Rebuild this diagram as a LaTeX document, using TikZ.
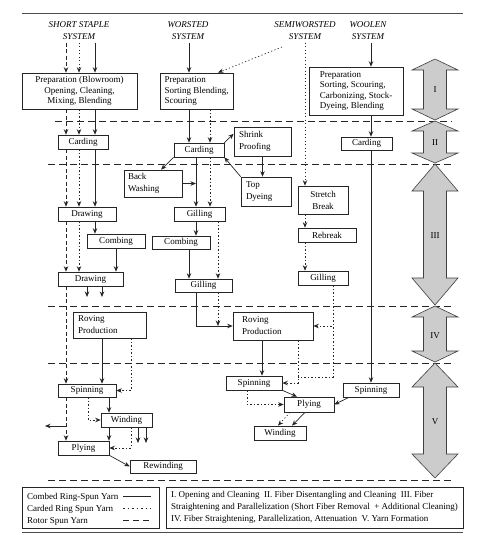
\documentclass[tikz,border=0pt]{standalone}
\usepackage{fontspec}
\setmainfont{Liberation Serif}
\usetikzlibrary{arrows.meta}

% double-headed stage arrow: centre x, top tip, bottom tip, head length
\newcommand{\stagearrow}[4]{%
  \draw[fill=gray!40, draw=black!75, line width=0.6pt]
    (#1,#2) -- (#1+23,#2+#4) -- (#1+11.5,#2+#4) -- (#1+11.5,#3-#4) -- (#1+23,#3-#4)
    -- (#1,#3) -- (#1-23,#3-#4) -- (#1-11.5,#3-#4) -- (#1-11.5,#2+#4) -- (#1-23,#2+#4) -- cycle;
}

\begin{document}
\begin{tikzpicture}[x=1pt, y=-1pt,
    box/.style={draw=black!85, line width=0.65pt, inner sep=0pt, font=\fontsize{9}{12}\selectfont, align=center},
    prepbox/.style={box, font=\fontsize{9}{10.5}\selectfont},
    title/.style={font=\fontsize{9}{12}\selectfont\itshape, align=center, inner sep=2.5pt},
    legtext/.style={font=\fontsize{9}{12}\selectfont, inner sep=0pt},
    stagelbl/.style={font=\fontsize{9}{12}\selectfont, inner sep=0pt},
    solidarr/.style={draw=black!85, line width=0.7pt, -{Stealth[length=5.5pt,width=4.5pt]}},
    dotarr/.style={solidarr, dash pattern=on 1.2pt off 2.3pt},
    dasharr/.style={solidarr, dash pattern=on 4pt off 2.5pt},
    dotline/.style={draw=black!85, line width=0.7pt, dash pattern=on 1.2pt off 2.3pt},
    stagesep/.style={draw=black!85, line width=0.8pt, dash pattern=on 7pt off 4pt},
  ]
  \useasboundingbox (0,0) rectangle (487,542);

  % rules
  \draw[line width=0.9pt, black!70] (22,13) -- (463,13);
  \draw[line width=0.9pt, black!70] (22,532) -- (463,532);

  % stage separators
  \foreach \y/\x in {121/55, 164/48, 306/48, 363/48, 480/48}
    \draw[stagesep] (\x,\y) -- (452,\y);

  % stage arrows
  \stagearrow{435}{59}{120}{11}
  \stagearrow{435}{121}{163}{10}
  \stagearrow{435}{164}{305}{27}
  \stagearrow{435}{306}{362}{11}
  \stagearrow{435}{363}{478}{24}
  \node[stagelbl] (stI) at (435,90) {I};
  \node[stagelbl] (stII) at (435,143) {II};
  \node[stagelbl] (stIII) at (435,236) {III};
  \node[stagelbl] (stIV) at (435,336) {IV};
  \node[stagelbl] (stV) at (435,422) {V};

  % system titles
  \node[title] (tS) at (79,31) {SHORT STAPLE\\SYSTEM};
  \node[title] (tW) at (188,31) {WORSTED\\SYSTEM};
  \node[title] (tSW) at (305,31) {SEMIWORSTED\\SYSTEM};
  \node[title] (tL) at (368,31) {WOOLEN\\SYSTEM};

  % short staple boxes
  \node[prepbox, minimum width=115pt, minimum height=36pt] (prepS) at (79.5,91) {Preparation (Blowroom)\\Opening, Cleaning,\\Mixing, Blending};
  \node[box, minimum width=50pt, minimum height=14pt] (cardS) at (83,142) {Carding};
  \node[box, minimum width=58pt, minimum height=14pt] (drawS) at (87,214) {Drawing};
  \node[box, minimum width=58pt, minimum height=14pt] (combS) at (116,241) {Combing};
  \node[box, minimum width=65pt, minimum height=14pt] (drawS2) at (90.5,279) {Drawing};
  \node[box, minimum width=73pt, minimum height=26pt, text width=63pt, align=left] (rovS) at (109.5,325) {Roving\\Production};
  \node[box, minimum width=58pt, minimum height=13pt] (spinS) at (87,390.5) {Spinning};
  \node[box, minimum width=51pt, minimum height=14pt] (windS) at (126.5,420) {Winding};
  \node[box, minimum width=51pt, minimum height=14pt] (plyS) at (83.5,448) {Plying};
  \node[box, minimum width=66pt, minimum height=13pt] (rewind) at (163,466.5) {Rewinding};

  % worsted boxes
  \node[prepbox, minimum width=73pt, minimum height=36pt, align=left] (prepW) at (196.5,91) {Preparation\\Sorting Blending,\\Scouring};
  \node[box, minimum width=50pt, minimum height=14pt] (cardW) at (199,150) {Carding};
  \node[box, minimum width=57pt, minimum height=29pt, text width=47pt, align=left] (shrink) at (262.5,141.5) {Shrink\\Proofing};
  \node[box, minimum width=50pt, minimum height=29pt, text width=40pt, align=left] (topdye) at (266,191.5) {Top\\Dyeing};
  \node[box, minimum width=58pt, minimum height=27pt, text width=50pt, align=left] (backwash) at (153,183.5) {Back\\Washing};
  \node[box, minimum width=51pt, minimum height=14pt] (gillW) at (199.5,214) {Gilling};
  \node[box, minimum width=58pt, minimum height=13pt] (combW) at (181,242.5) {Combing};
  \node[box, minimum width=57pt, minimum height=13pt] (gillW2) at (203.5,285.5) {Gilling};
  \node[box, minimum width=80pt, minimum height=28pt, text width=62pt, align=left] (rovW) at (273,326) {Roving\\Production};
  \node[box, minimum width=56pt, minimum height=14pt] (spinW) at (254,383) {Spinning};
  \node[box, minimum width=50pt, minimum height=15pt] (plyW) at (309,404.5) {Plying};
  \node[box, minimum width=52pt, minimum height=14pt] (windW) at (280,433) {Winding};

  % semiworsted boxes
  \node[box, minimum width=50pt, minimum height=28pt] (stretch) at (323,200) {Stretch\\Break};
  \node[box, minimum width=58pt, minimum height=14pt] (rebreak) at (327,235) {Rebreak};
  \node[box, minimum width=50pt, minimum height=14pt] (gillSW) at (323,278) {Gilling};

  % woolen boxes
  \node[prepbox, minimum width=94pt, minimum height=48pt, align=left] (prepL) at (356,91) {Preparation\\Sorting, Scouring,\\Carbonizing, Stock-\\Dyeing, Blending};
  \node[box, minimum width=51pt, minimum height=13pt] (cardL) at (366.5,143.5) {Carding};
  \node[box, minimum width=56pt, minimum height=14pt] (spinL) at (371,390) {Spinning};

  % columns of the vertical flow lines
  \foreach \n/\x in {cA/66, cB/79, cC/95, cD/116, cF/102, cG/131, cH/88, cI/109,
                     wA/189, wB/210, wC/196, wD/218, wE/262, wF/298, wG/247, wH/218, bw/161,
                     pA/297, pB/305, pC/292, pD/290, pE/278,
                     sA/305, sB/333, lA/371, lB/349}
    \coordinate (\n) at (\x,0);
  \coordinate (outA) at (87,297);
  \coordinate (outB) at (102,297);
  \coordinate (outC) at (138,443);
  \coordinate (outD) at (146,443);
  \coordinate (rotJ) at (66,426);
  \coordinate (rotOut) at (45,426);
  \coordinate (swFork) at (282,47);
  \coordinate (swJoin) at (298,377);

  % short staple flow
  \foreach \a/\b in {tS/prepS, prepS/cardS, cardS/drawS}
    \foreach \st/\c in {dasharr/cA, dotarr/cB, solidarr/cC}
      \draw[\st] (\a.south -| \c) -- (\b.north -| \c);
  \draw[solidarr] (drawS.south -| cC) -- (combS.north -| cC);
  \draw[dasharr] (drawS.south -| cA) -- (drawS2.north -| cA);
  \draw[dotarr] (drawS.south -| cB) -- (drawS2.north -| cB);
  \draw[solidarr] (combS.south -| cD) -- (drawS2.north -| cD);
  \draw[solidarr] (drawS2.south -| outA) -- (outA);
  \draw[solidarr] (drawS2.south -| outB) -- (outB);
  \draw[dasharr] (drawS2.south -| cA) -- (spinS.north -| cA);
  \draw[solidarr] (rovS.south -| cF) -- (spinS.north -| cF);
  \draw[dotarr] (rovS.south -| cG) |- (spinS.east);
  \draw[solidarr] (spinS.south -| cI) -- (windS.north -| cI);
  \draw[dotarr] (spinS.south -| cH) |- (windS.west);
  \draw[dasharr] (spinS.south -| cA) -- (plyS.north -| cA);
  \draw[solidarr] (rotJ) -- (rotOut);
  \draw[solidarr] (windS.south -| cI) -- (plyS.north -| cI);
  \draw[solidarr] (windS.south -| outC) -- (outC);
  \draw[solidarr] (windS.south -| outD) -- (outD);
  \draw[dotarr] (windS.south -| cG) |- (plyS.east);
  \draw[solidarr] (plyS.south east) -- (rewind.west);

  % worsted flow
  \draw[solidarr] (tW.south -| wA) -- (prepW.north -| wA);
  \draw[dotarr] (swFork) -- (prepW.north -| wH);
  \draw[solidarr] (prepW.south -| wA) -- (cardW.north -| wA);
  \draw[dotarr] (prepW.south -| wB) -- (cardW.north -| wB);
  \draw[solidarr] (cardW.north east) -- (shrink.165);
  \draw[solidarr] (shrink.south) -- (shrink.south |- topdye.north);
  \draw[solidarr] (topdye.north west) -- (cardW.south east);
  \draw[solidarr] (cardW.south west) -- (backwash.north -| bw);
  \draw[solidarr] (backwash.east) -- (backwash.east -| wC);
  \draw[solidarr] (cardW.south -| wC) -- (gillW.north -| wC);
  \draw[dotarr] (cardW.south -| wB) -- (gillW.north -| wB);
  \draw[solidarr] (gillW.south -| wC) -- (combW.north -| wC);
  \draw[dotarr] (gillW.south -| wD) -- (gillW2.north -| wD);
  \draw[solidarr] (combW.south -| wA) -- (gillW2.north -| wA);
  \draw[solidarr] (gillW2.south -| wC) |- (rovW.west);
  \draw[dotarr] (gillW2.south -| wD) -- (rovW.west -| wD);
  \draw[solidarr] (rovW.south -| wE) -- (spinW.north -| wE);
  \draw[dotarr] (rovW.south -| wF) |- (spinW.east);
  \draw[solidarr] (spinW.south east) -- (plyW.north -| pA);
  \draw[dotarr] (spinW.south -| wG) |- (plyW.west);
  \draw[solidarr] (plyW.south -| pB) -- (windW.north -| pC);
  \draw[dotarr] (plyW.south -| pD) -- (windW.north -| pE);

  % semiworsted flow
  \draw[dotarr] (tSW.south -| sA) -- (stretch.north -| sA);
  \draw[dotarr] (stretch.south -| sA) -- (rebreak.north -| sA);
  \draw[dotarr] (rebreak.south -| sA) -- (gillSW.north -| sA);
  \draw[dotarr] (gillSW.south -| sB) |- (rovW.east);
  \draw[dotline] (gillSW.south -| sB) |- (swJoin);

  % woolen flow
  \draw[solidarr] (tL.south -| lA) -- (prepL.north -| lA);
  \draw[solidarr] (prepL.south -| lA) -- (cardL.north -| lA);
  \draw[solidarr] (cardL.south -| lA) -- (spinL.north -| lA);
  \draw[solidarr] (spinL.south -| lB) -- (plyW.east);

  % legend
  \node[box, minimum width=137pt, minimum height=41pt] (legL) at (90.5,507.5) {};
  \node[legtext, anchor=base west] (lg1) at (27,499) {Combed Ring-Spun Yarn};
  \node[legtext, anchor=base west] (lg2) at (27,511) {Carded Ring Spun Yarn};
  \node[legtext, anchor=base west] (lg3) at (27,523) {Rotor Spun Yarn};
  \draw[draw=black!85, line width=0.7pt] (123,496) -- (151,496);
  \draw[draw=black!85, line width=0.7pt, dash pattern=on 1.5pt off 3pt] (123,508) -- (151,508);
  \draw[draw=black!85, line width=0.7pt, dash pattern=on 6pt off 4pt] (123,520) -- (151,520);
  \node[box, minimum width=297pt, minimum height=41pt, align=left] (legR) at (314.5,507.5)
    {I. Opening and Cleaning\ \ II. Fiber Disentangling and Cleaning\ \ III. Fiber\\
     Straightening and Parallelization (Short Fiber Removal\ \ + Additional Cleaning)\\
     IV. Fiber Straightening, Parallelization, Attenuation\ \ V. Yarn Formation};
\end{tikzpicture}
\end{document}
